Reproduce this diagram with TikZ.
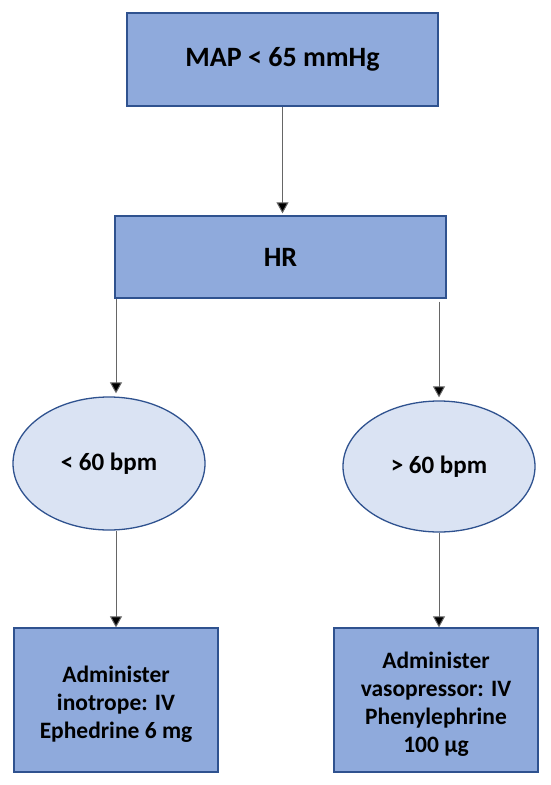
\documentclass[tikz,border=0pt]{standalone}
\usepackage{fontspec}
\setmainfont{Carlito}
\usetikzlibrary{arrows.meta,shapes.geometric}
\definecolor{boxfill}{HTML}{8FAADC}
\definecolor{boxline}{HTML}{2F528F}
\definecolor{ellfill}{HTML}{DAE3F3}
\newcommand{\topstrut}{\rule{0pt}{25pt}}
\tikzset{
  bluebox/.style={draw=boxline, line width=1.3pt, fill=boxfill, rectangle, inner sep=0pt, align=center, font=\bfseries\fontsize{23.5}{28}\selectfont},
  oval/.style={draw=boxline, line width=1.3pt, fill=ellfill, ellipse, inner sep=0pt, font=\bfseries\fontsize{25}{30}\selectfont},
  arr/.style={draw=black!60, line width=1pt, -{Triangle[width=12pt,length=11pt,fill=black]}}
}
\begin{document}
\begin{tikzpicture}[x=1pt,y=-1pt]
\useasboundingbox (0,0) rectangle (550,785);
\node[bluebox, minimum width=311pt, minimum height=93pt, font=\bfseries\fontsize{28}{33}\selectfont] (top) at (282.5,59.5) {MAP < 65 mmHg};
\node[bluebox, minimum width=331pt, minimum height=82pt, font=\bfseries\fontsize{28}{33}\selectfont] (hr) at (280.5,257) {HR};
\node[oval, minimum width=192pt, minimum height=133pt] (l) at (109,463.5) {< 60 bpm};
\node[oval, minimum width=192pt, minimum height=131pt] (r) at (439,466.5) {> 60 bpm};
\node[bluebox, minimum width=204pt, minimum height=144pt] (bl) at (116,700) {\topstrut Administer\\inotrope: IV\\Ephedrine 6 mg};
\node[bluebox, minimum width=204pt, minimum height=144pt] (br) at (436,700) {\topstrut Administer\\vasopressor: IV\\Phenylephrine\\100 µg};
\draw[arr] (top.south) -- ([yshift=2pt]top.south |- hr.north);
\draw[arr] (hr.south -| bl.north) -- ([yshift=3pt]bl.north |- l.north);
\draw[arr] ([yshift=-3pt]hr.south -| r.north) -- ([yshift=3pt]r.north);
\draw[arr] (l.south -| bl.north) -- (bl.north);
\draw[arr] (r.south) -- (r.south |- br.north);
\end{tikzpicture}
\end{document}
